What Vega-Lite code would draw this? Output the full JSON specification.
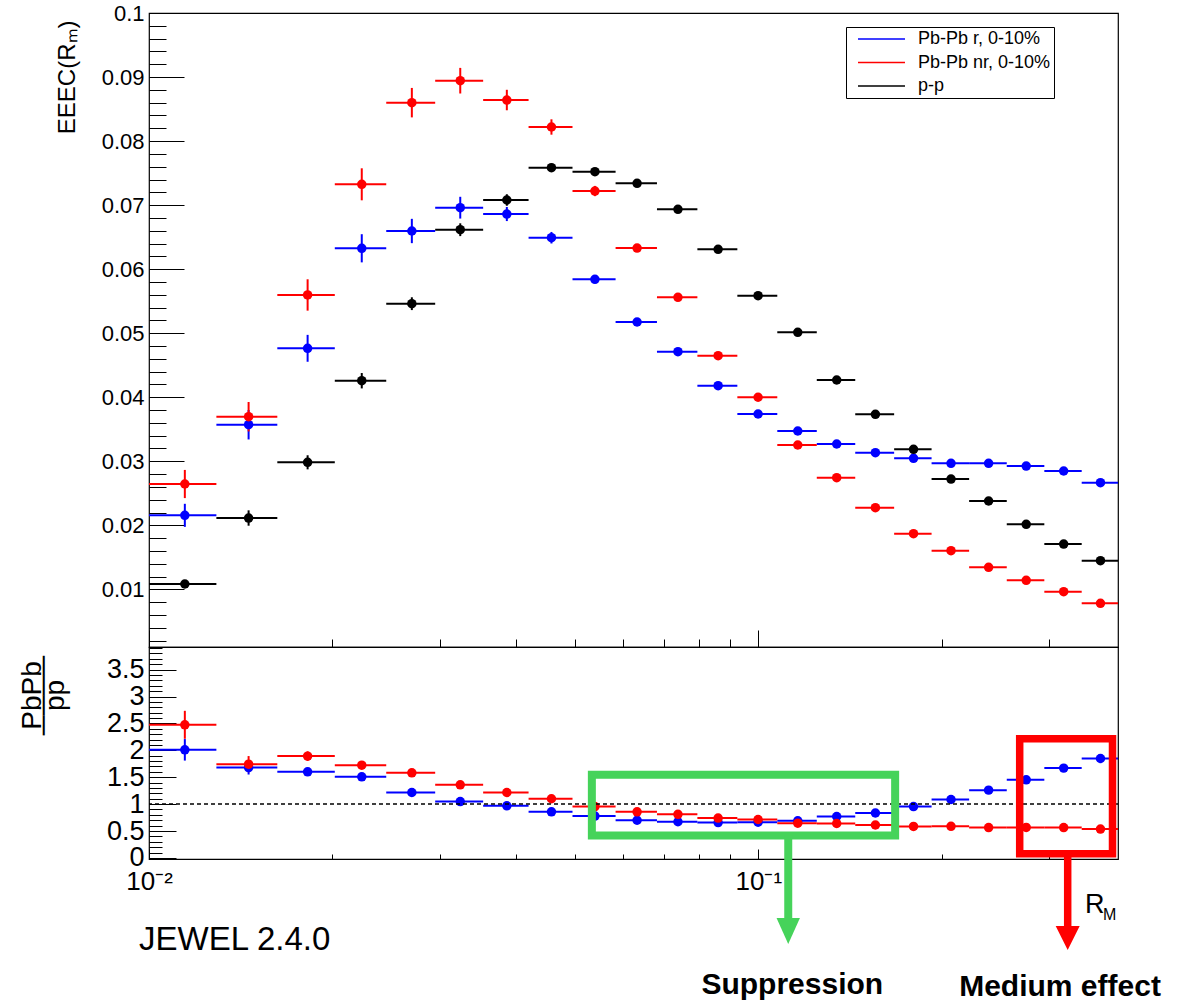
{
  "$schema": "https://vega.github.io/schema/vega-lite/v6.json",
  "padding": {"left": 17, "top": 1, "right": 0, "bottom": 0},
  "background": "white",
  "spacing": 0,
  "bounds": "flush",
  "datasets": {
    "pts": [
      {"b":1,"lo":0.01,"hi":0.0129,"c":0.01145,"s":"Pb-Pb r, 0-10%","v":0.02156,"e":0.0018,"r":2.009,"re":0.2},
      {"b":2,"lo":0.0129,"hi":0.01624,"c":0.01457,"s":"Pb-Pb r, 0-10%","v":0.03571,"e":0.0023,"r":1.68,"re":0.13},
      {"b":3,"lo":0.01624,"hi":0.02018,"c":0.01821,"s":"Pb-Pb r, 0-10%","v":0.04764,"e":0.0021,"r":1.6,"re":0.07},
      {"b":4,"lo":0.02018,"hi":0.02451,"c":0.022345,"s":"Pb-Pb r, 0-10%","v":0.06326,"e":0.0022,"r":1.507,"re":0.06},
      {"b":5,"lo":0.02451,"hi":0.02949,"c":0.027,"s":"Pb-Pb r, 0-10%","v":0.06596,"e":0.0019,"r":1.216,"re":0.05},
      {"b":6,"lo":0.02949,"hi":0.03535,"c":0.03242,"s":"Pb-Pb r, 0-10%","v":0.0696,"e":0.0017,"r":1.048,"re":0.04},
      {"b":7,"lo":0.03535,"hi":0.04197,"c":0.03866,"s":"Pb-Pb r, 0-10%","v":0.06861,"e":0.0011,"r":0.968,"re":0.03},
      {"b":8,"lo":0.04197,"hi":0.04955,"c":0.04576,"s":"Pb-Pb r, 0-10%","v":0.06491,"e":0.0009,"r":0.857,"re":0.025},
      {"b":9,"lo":0.04955,"hi":0.05831,"c":0.05393,"s":"Pb-Pb r, 0-10%","v":0.05842,"e":0.0006,"r":0.777,"re":0.02},
      {"b":10,"lo":0.05831,"hi":0.06818,"c":0.063245,"s":"Pb-Pb r, 0-10%","v":0.05175,"e":0.0005,"r":0.7,"re":0.015},
      {"b":11,"lo":0.06818,"hi":0.07943,"c":0.073805,"s":"Pb-Pb r, 0-10%","v":0.04711,"e":0.0004,"r":0.672,"re":0.012},
      {"b":12,"lo":0.07943,"hi":0.09238,"c":0.085905,"s":"Pb-Pb r, 0-10%","v":0.0418,"e":0.0004,"r":0.657,"re":0.01},
      {"b":13,"lo":0.09238,"hi":0.10743,"c":0.099905,"s":"Pb-Pb r, 0-10%","v":0.03738,"e":0.0003,"r":0.664,"re":0.01},
      {"b":14,"lo":0.10743,"hi":0.12472,"c":0.116075,"s":"Pb-Pb r, 0-10%","v":0.03473,"e":0.0003,"r":0.69,"re":0.01},
      {"b":15,"lo":0.12472,"hi":0.14423,"c":0.134475,"s":"Pb-Pb r, 0-10%","v":0.0327,"e":0.0003,"r":0.77,"re":0.01},
      {"b":16,"lo":0.14423,"hi":0.16707,"c":0.15565,"s":"Pb-Pb r, 0-10%","v":0.03134,"e":0.0003,"r":0.835,"re":0.01},
      {"b":17,"lo":0.16707,"hi":0.19246,"c":0.179765,"s":"Pb-Pb r, 0-10%","v":0.03046,"e":0.0003,"r":0.955,"re":0.01},
      {"b":18,"lo":0.19246,"hi":0.2218,"c":0.20713,"s":"Pb-Pb r, 0-10%","v":0.02968,"e":0.0003,"r":1.086,"re":0.015},
      {"b":19,"lo":0.2218,"hi":0.2557,"c":0.23875,"s":"Pb-Pb r, 0-10%","v":0.02968,"e":0.0003,"r":1.26,"re":0.015},
      {"b":20,"lo":0.2557,"hi":0.2947,"c":0.2752,"s":"Pb-Pb r, 0-10%","v":0.02926,"e":0.0003,"r":1.452,"re":0.02},
      {"b":21,"lo":0.2947,"hi":0.3394,"c":0.31705,"s":"Pb-Pb r, 0-10%","v":0.02848,"e":0.0003,"r":1.669,"re":0.02},
      {"b":22,"lo":0.3394,"hi":0.3893,"c":0.36435,"s":"Pb-Pb r, 0-10%","v":0.02666,"e":0.0003,"r":1.848,"re":0.025},
      {"b":1,"lo":0.01,"hi":0.0129,"c":0.01145,"s":"Pb-Pb nr, 0-10%","v":0.02645,"e":0.0022,"r":2.474,"re":0.26},
      {"b":2,"lo":0.0129,"hi":0.01624,"c":0.01457,"s":"Pb-Pb nr, 0-10%","v":0.03696,"e":0.0023,"r":1.743,"re":0.15},
      {"b":3,"lo":0.01624,"hi":0.02018,"c":0.01821,"s":"Pb-Pb nr, 0-10%","v":0.05597,"e":0.00245,"r":1.892,"re":0.09},
      {"b":4,"lo":0.02018,"hi":0.02451,"c":0.022345,"s":"Pb-Pb nr, 0-10%","v":0.07325,"e":0.0025,"r":1.724,"re":0.07},
      {"b":5,"lo":0.02451,"hi":0.02949,"c":0.027,"s":"Pb-Pb nr, 0-10%","v":0.086,"e":0.0023,"r":1.582,"re":0.06},
      {"b":6,"lo":0.02949,"hi":0.03535,"c":0.03242,"s":"Pb-Pb nr, 0-10%","v":0.08943,"e":0.002,"r":1.359,"re":0.05},
      {"b":7,"lo":0.03535,"hi":0.04197,"c":0.03866,"s":"Pb-Pb nr, 0-10%","v":0.08641,"e":0.0016,"r":1.216,"re":0.03},
      {"b":8,"lo":0.04197,"hi":0.04955,"c":0.04576,"s":"Pb-Pb nr, 0-10%","v":0.0822,"e":0.0012,"r":1.1,"re":0.025},
      {"b":9,"lo":0.04955,"hi":0.05831,"c":0.05393,"s":"Pb-Pb nr, 0-10%","v":0.0722,"e":0.0008,"r":0.955,"re":0.02},
      {"b":10,"lo":0.05831,"hi":0.06818,"c":0.063245,"s":"Pb-Pb nr, 0-10%","v":0.0633,"e":0.0005,"r":0.857,"re":0.015},
      {"b":11,"lo":0.06818,"hi":0.07943,"c":0.073805,"s":"Pb-Pb nr, 0-10%","v":0.0556,"e":0.0004,"r":0.81,"re":0.012},
      {"b":12,"lo":0.07943,"hi":0.09238,"c":0.085905,"s":"Pb-Pb nr, 0-10%","v":0.04649,"e":0.0004,"r":0.74,"re":0.01},
      {"b":13,"lo":0.09238,"hi":0.10743,"c":0.099905,"s":"Pb-Pb nr, 0-10%","v":0.04,"e":0.0003,"r":0.714,"re":0.01},
      {"b":14,"lo":0.10743,"hi":0.12472,"c":0.116075,"s":"Pb-Pb nr, 0-10%","v":0.03254,"e":0.0003,"r":0.645,"re":0.01},
      {"b":15,"lo":0.12472,"hi":0.14423,"c":0.134475,"s":"Pb-Pb nr, 0-10%","v":0.02744,"e":0.0003,"r":0.64,"re":0.01},
      {"b":16,"lo":0.14423,"hi":0.16707,"c":0.15565,"s":"Pb-Pb nr, 0-10%","v":0.02275,"e":0.0003,"r":0.612,"re":0.01},
      {"b":17,"lo":0.16707,"hi":0.19246,"c":0.179765,"s":"Pb-Pb nr, 0-10%","v":0.01869,"e":0.0003,"r":0.585,"re":0.01},
      {"b":18,"lo":0.19246,"hi":0.2218,"c":0.20713,"s":"Pb-Pb nr, 0-10%","v":0.01604,"e":0.0003,"r":0.587,"re":0.01},
      {"b":19,"lo":0.2218,"hi":0.2557,"c":0.23875,"s":"Pb-Pb nr, 0-10%","v":0.01344,"e":0.0003,"r":0.565,"re":0.01},
      {"b":20,"lo":0.2557,"hi":0.2947,"c":0.2752,"s":"Pb-Pb nr, 0-10%","v":0.01141,"e":0.0003,"r":0.566,"re":0.01},
      {"b":21,"lo":0.2947,"hi":0.3394,"c":0.31705,"s":"Pb-Pb nr, 0-10%","v":0.00964,"e":0.0003,"r":0.564,"re":0.01},
      {"b":22,"lo":0.3394,"hi":0.3893,"c":0.36435,"s":"Pb-Pb nr, 0-10%","v":0.00782,"e":0.0003,"r":0.537,"re":0.01},
      {"b":1,"lo":0.01,"hi":0.0129,"c":0.01145,"s":"p-p","v":0.01084,"e":0.0006},
      {"b":2,"lo":0.0129,"hi":0.01624,"c":0.01457,"s":"p-p","v":0.02114,"e":0.0012},
      {"b":3,"lo":0.01624,"hi":0.02018,"c":0.01821,"s":"p-p","v":0.02984,"e":0.0011},
      {"b":4,"lo":0.02018,"hi":0.02451,"c":0.022345,"s":"p-p","v":0.04258,"e":0.0012},
      {"b":5,"lo":0.02451,"hi":0.02949,"c":0.027,"s":"p-p","v":0.05461,"e":0.001},
      {"b":6,"lo":0.02949,"hi":0.03535,"c":0.03242,"s":"p-p","v":0.06616,"e":0.001},
      {"b":7,"lo":0.03535,"hi":0.04197,"c":0.03866,"s":"p-p","v":0.0708,"e":0.0009},
      {"b":8,"lo":0.04197,"hi":0.04955,"c":0.04576,"s":"p-p","v":0.07585,"e":0.0006},
      {"b":9,"lo":0.04955,"hi":0.05831,"c":0.05393,"s":"p-p","v":0.07522,"e":0.0005},
      {"b":10,"lo":0.05831,"hi":0.06818,"c":0.063245,"s":"p-p","v":0.0734,"e":0.0004},
      {"b":11,"lo":0.06818,"hi":0.07943,"c":0.073805,"s":"p-p","v":0.06935,"e":0.0004},
      {"b":12,"lo":0.07943,"hi":0.09238,"c":0.085905,"s":"p-p","v":0.0631,"e":0.0004},
      {"b":13,"lo":0.09238,"hi":0.10743,"c":0.099905,"s":"p-p","v":0.05586,"e":0.0003},
      {"b":14,"lo":0.10743,"hi":0.12472,"c":0.116075,"s":"p-p","v":0.05014,"e":0.0003},
      {"b":15,"lo":0.12472,"hi":0.14423,"c":0.134475,"s":"p-p","v":0.04269,"e":0.0003},
      {"b":16,"lo":0.14423,"hi":0.16707,"c":0.15565,"s":"p-p","v":0.03733,"e":0.0003},
      {"b":17,"lo":0.16707,"hi":0.19246,"c":0.179765,"s":"p-p","v":0.03187,"e":0.0003},
      {"b":18,"lo":0.19246,"hi":0.2218,"c":0.20713,"s":"p-p","v":0.02723,"e":0.0003},
      {"b":19,"lo":0.2218,"hi":0.2557,"c":0.23875,"s":"p-p","v":0.0238,"e":0.0003},
      {"b":20,"lo":0.2557,"hi":0.2947,"c":0.2752,"s":"p-p","v":0.02016,"e":0.0003},
      {"b":21,"lo":0.2947,"hi":0.3394,"c":0.31705,"s":"p-p","v":0.01708,"e":0.0003},
      {"b":22,"lo":0.3394,"hi":0.3893,"c":0.36435,"s":"p-p","v":0.01448,"e":0.0003}
    ]
  },
  "resolve": {"scale": {"x": "independent", "y": "independent", "color": "independent"}, "legend": {"color": "independent"}},
  "vconcat": [
    {
      "width": 969,
      "height": 634,
      "data": {"name": "pts"},
      "encoding": {
        "y": {"field": "v", "type": "quantitative",
          "scale": {"domain": [0.001, 0.1], "nice": false, "zero": false},
          "axis": {
            "title": "EEEC(R\u2098)", "titleFontSize": 24, "titleFont": "Liberation Sans", "titleFontWeight": "normal",
            "titleAngle": -90, "titleAlign": "right", "titleBaseline": "middle", "titleX": -82, "titleY": 7,
            "domain": false, "grid": false, "tickCount": 200,
            "values": [0.002,0.004,0.006,0.008,0.01,0.012,0.014,0.016,0.018,0.02,0.022,0.024,0.026,0.028,0.03,0.032,0.034,0.036,0.038,0.04,0.042,0.044,0.046,0.048,0.05,0.052,0.054,0.056,0.058,0.06,0.062,0.064,0.066,0.068,0.07,0.072,0.074,0.076,0.078,0.08,0.082,0.084,0.086,0.088,0.09,0.092,0.094,0.096,0.098,0.1],
            "format": ".2~f",
            "labelExpr": "abs(datum.value*100 - round(datum.value*100)) < 1e-6 ? datum.label : ''",
            "labelFontSize": 22, "labelFont": "Liberation Sans", "labelColor": "black", "labelOverlap": false, "labelFlush": false,
            "labelPadding": 40,
            "tickColor": "black", "tickWidth": 1,
            "tickSize": {"condition": {"test": "abs(datum.value*100 - round(datum.value*100)) < 1e-6", "value": -35}, "value": -17}
          }
        },
        "color": {
          "field": "s", "type": "nominal",
          "scale": {"domain": ["Pb-Pb r, 0-10%", "Pb-Pb nr, 0-10%", "p-p"], "range": ["#0000ff", "#ff0000", "#000000"]},
          "legend": {
            "orient": "none", "legendX": 697, "legendY": 14, "title": null,
            "labelFontSize": 18, "labelFont": "Liberation Sans", "labelColor": "black", "labelLimit": 400,
            "strokeColor": "black", "fillColor": "white", "padding": 3, "rowPadding": 5.5, "labelOffset": 51,
            "symbolType": "M 0 0 L 8 0", "symbolSize": 138, "symbolStrokeWidth": 1.5,
            "encode": {
              "symbols": {"update": {"stroke": {"scale": "color", "field": "value"}, "shape": {"value": "M 0 0 L 8 0"}, "size": {"value": 138}, "strokeWidth": {"value": 1.5}}}
            }
          }
        }
      },
      "layer": [
        {
          "mark": {"type": "rule", "strokeWidth": 2},
          "encoding": {
            "x": {"field": "lo", "type": "quantitative",
              "scale": {"type": "log", "domain": [0.01, 0.3893], "nice": false},
              "axis": {
                "orient": "bottom", "title": null, "labels": false, "domain": false, "grid": false, "tickCount": 50,
                "values": [0.01,0.02,0.03,0.04,0.05,0.06,0.07,0.08,0.09,0.1,0.2,0.3],
                "tickColor": "black", "tickWidth": 1,
                "tickSize": {"condition": {"test": "datum.value == 0.01 || datum.value == 0.1", "value": -17}, "value": -8}
              }
            },
            "x2": {"field": "hi"}
          }
        },
        {
          "mark": {"type": "errorbar", "thickness": 2},
          "encoding": {
            "x": {"field": "c", "type": "quantitative"},
            "yError": {"field": "e"}
          }
        },
        {
          "mark": {"type": "point", "filled": true, "opacity": 1, "size": 90},
          "encoding": {
            "x": {"field": "c", "type": "quantitative"}
          }
        }
      ]
    },
    {
      "width": 969,
      "height": 212,
      "layer": [
        {
          "data": {"name": "pts"},
          "transform": [{"filter": "isValid(datum.r)"}],
          "encoding": {
            "y": {"field": "r", "type": "quantitative",
              "scale": {"domain": [-0.02, 3.92], "nice": false, "zero": false},
              "axis": {
                "title": ["PbPb", "\u2500\u2500\u2500\u2500", "pp"], "titleFontSize": 28, "titleFont": "Liberation Sans, DejaVu Sans", "titleFontWeight": "normal",
                "titleAngle": -90, "titleAlign": "center", "titleBaseline": "middle", "titleLineHeight": 11.5, "titleX": -117, "titleY": 48,
                "domain": false, "grid": false, "tickCount": 200,
                "values": [0,0.1,0.2,0.3,0.4,0.5,0.6,0.7,0.8,0.9,1,1.1,1.2,1.3,1.4,1.5,1.6,1.7,1.8,1.9,2,2.1,2.2,2.3,2.4,2.5,2.6,2.7,2.8,2.9,3,3.1,3.2,3.3,3.4,3.5,3.6,3.7,3.8,3.9],
                "format": ".1~f",
                "labelExpr": "abs(datum.value*2 - round(datum.value*2)) < 1e-6 ? datum.label : ''",
                "labelFontSize": 27, "labelFont": "Liberation Sans", "labelColor": "black", "labelOverlap": false, "labelFlush": false,
                "labelPadding": 32,
                "tickColor": "black", "tickWidth": 1,
                "tickSize": {"condition": {"test": "abs(datum.value*2 - round(datum.value*2)) < 1e-6", "value": -27}, "value": -13}
              }
            },
            "color": {"field": "s", "type": "nominal", "legend": null,
              "scale": {"domain": ["Pb-Pb r, 0-10%", "Pb-Pb nr, 0-10%", "p-p"], "range": ["#0000ff", "#ff0000", "#000000"]}}
          },
          "layer": [
            {
              "mark": {"type": "rule", "strokeWidth": 2},
              "encoding": {
                "x": {"field": "lo", "type": "quantitative",
                  "scale": {"type": "log", "domain": [0.01, 0.3893], "nice": false},
                  "axis": {
                    "orient": "bottom", "title": null, "domain": false, "grid": false, "tickCount": 50,
                    "values": [0.01,0.02,0.03,0.04,0.05,0.06,0.07,0.08,0.09,0.1,0.2,0.3],
                    "labelExpr": "datum.value == 0.01 ? '10\u207b\u00b2' : (datum.value == 0.1 ? '10\u207b\u00b9' : '')",
                    "labelFontSize": 26, "labelFont": "Liberation Sans", "labelColor": "black", "labelOverlap": false, "labelFlush": false, "labelAngle": 0,
                    "labelPadding": 19,
                    "tickColor": "black", "tickWidth": 1,
                    "tickSize": {"condition": {"test": "datum.value == 0.01 || datum.value == 0.1", "value": -10}, "value": -5}
                  }
                },
                "x2": {"field": "hi"}
              }
            },
            {
              "mark": {"type": "errorbar", "thickness": 2},
              "encoding": {
                "x": {"field": "c", "type": "quantitative"},
                "yError": {"field": "re"}
              }
            },
            {
              "mark": {"type": "point", "filled": true, "opacity": 1, "size": 90},
              "encoding": {
                "x": {"field": "c", "type": "quantitative"}
              }
            }
          ]
        },
        {
          "data": {"values": [{"one": 1}]},
          "mark": {"type": "rule", "color": "black", "strokeWidth": 1.5, "strokeDash": [4, 3]},
          "encoding": {"y": {"datum": 1}}
        },
        {
          "data": {"values": [{"x1": 0.05331, "x2": 0.1677, "y1": 1.545, "y2": 0.416}]},
          "mark": {"type": "rect", "fill": null, "fillOpacity": 0, "stroke": "#46d35a", "strokeWidth": 8},
          "encoding": {"x": {"field": "x1", "type": "quantitative"}, "x2": {"field": "x2"}, "y": {"field": "y1", "type": "quantitative"}, "y2": {"field": "y2"}}
        },
        {
          "data": {"values": [{"x1": 0.2685, "x2": 0.3813, "y1": 2.214, "y2": 0.076}]},
          "mark": {"type": "rect", "fill": null, "fillOpacity": 0, "stroke": "#ff0000", "strokeWidth": 7.5},
          "encoding": {"x": {"field": "x1", "type": "quantitative"}, "x2": {"field": "x2"}, "y": {"field": "y1", "type": "quantitative"}, "y2": {"field": "y2"}}
        },
        {
          "data": {"values": [{"x": 0.11197, "y1": 0.416, "y2": -1.13}]},
          "mark": {"type": "rule", "color": "#46d35a", "strokeWidth": 8},
          "encoding": {"x": {"field": "x", "type": "quantitative"}, "y": {"field": "y1", "type": "quantitative"}, "y2": {"field": "y2"}}
        },
        {
          "data": {"values": [{"x": 0.3219, "y1": 0.076, "y2": -1.3}]},
          "mark": {"type": "rule", "color": "#ff0000", "strokeWidth": 7.5},
          "encoding": {"x": {"field": "x", "type": "quantitative"}, "y": {"field": "y1", "type": "quantitative"}, "y2": {"field": "y2"}}
        },
        {
          "data": {"values": [{"x": 0.11197, "y": -1.36}]},
          "mark": {"type": "point", "shape": "M -0.9 -1 L 0.9 -1 L 0 1 Z", "filled": true, "color": "#46d35a", "opacity": 1, "size": 676},
          "encoding": {"x": {"field": "x", "type": "quantitative"}, "y": {"field": "y", "type": "quantitative"}}
        },
        {
          "data": {"values": [{"x": 0.3219, "y": -1.49}]},
          "mark": {"type": "point", "shape": "M -1 -1 L 1 -1 L 0 1 Z", "filled": true, "color": "#ff0000", "opacity": 1, "size": 576},
          "encoding": {"x": {"field": "x", "type": "quantitative"}, "y": {"field": "y", "type": "quantitative"}}
        },
        {
          "data": {"values": [{"x": 0.3436, "y": -1.02, "t": "R"}]},
          "mark": {"type": "text", "align": "left", "baseline": "alphabetic", "font": "Liberation Sans", "fontSize": 27, "color": "black"},
          "encoding": {"x": {"field": "x", "type": "quantitative"}, "y": {"field": "y", "type": "quantitative"}, "text": {"field": "t"}}
        },
        {
          "data": {"values": [{"x": 0.3679, "y": -1.15, "t": "M"}]},
          "mark": {"type": "text", "align": "left", "baseline": "alphabetic", "font": "Liberation Sans", "fontSize": 16, "color": "black"},
          "encoding": {"x": {"field": "x", "type": "quantitative"}, "y": {"field": "y", "type": "quantitative"}, "text": {"field": "t"}}
        },
        {
          "data": {"values": [{"x": 0.00963, "y": -1.708, "t": "JEWEL 2.4.0"}]},
          "mark": {"type": "text", "align": "left", "baseline": "alphabetic", "font": "Liberation Sans", "fontSize": 33, "color": "black"},
          "encoding": {"x": {"field": "x", "type": "quantitative"}, "y": {"field": "y", "type": "quantitative"}, "text": {"field": "t"}}
        },
        {
          "data": {"values": [{"x": 0.1137, "y": -2.526, "t": "Suppression"}, {"x": 0.3127, "y": -2.56, "t": "Medium effect"}]},
          "mark": {"type": "text", "align": "center", "baseline": "alphabetic", "font": "Liberation Sans", "fontSize": 30, "fontWeight": "bold", "color": "black"},
          "encoding": {"x": {"field": "x", "type": "quantitative"}, "y": {"field": "y", "type": "quantitative"}, "text": {"field": "t"}}
        }
      ]
    }
  ],
  "config": {
    "view": {"stroke": "black", "strokeWidth": 1.2},
    "axis": {"labelFont": "Liberation Sans", "titleFont": "Liberation Sans", "labelColor": "black", "titleColor": "black", "tickColor": "black"},
    "concat": {"spacing": 0}
  }
}
